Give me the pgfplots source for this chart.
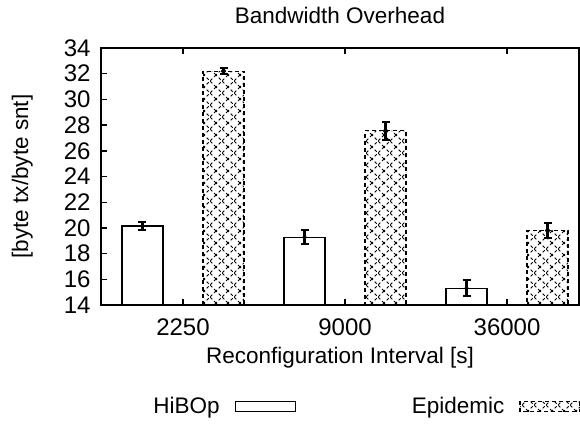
\documentclass[border=0pt]{standalone}
\usepackage{pgfplots}
\usepackage{pgfplotstable}
\pgfplotsset{compat=1.18}
\usepackage{fontspec}
\setmainfont{Liberation Sans}
\usetikzlibrary{patterns}

% dashed diagonal lattice used as the fill of the Epidemic bars
\pgfdeclarepatternformonly{dashlattice}{\pgfqpoint{-1pt}{-1pt}}{\pgfqpoint{13pt}{13pt}}{\pgfqpoint{12pt}{12pt}}{
  \pgfsetlinewidth{1.0pt}
  \pgfsetdash{{2.8pt}{2.4pt}}{1.4pt}
  \pgfpathmoveto{\pgfqpoint{0pt}{0pt}}
  \pgfpathlineto{\pgfqpoint{12pt}{12pt}}
  \pgfpathmoveto{\pgfqpoint{0pt}{12pt}}
  \pgfpathlineto{\pgfqpoint{12pt}{0pt}}
  \pgfusepath{stroke}
}

\pgfplotstableread{
x  hibop hibopErr epid  epidErr
0  20.15 0.30     32.20 0.25
1  19.27 0.55     27.55 0.70
2  15.30 0.62     19.80 0.62
}\bwdata

\newcommand{\chartfont}{\fontsize{22.5}{26}\selectfont}
\newcommand{\tickfont}{\fontsize{24}{28}\selectfont}

\begin{document}
\begin{tikzpicture}
\path[use as bounding box] (-101pt,-118pt) rectangle (479pt,305pt);
\begin{axis}[
  at={(0pt,0pt)}, anchor=south west,
  scale only axis,
  width=478pt, height=257pt,
  xmin=-0.506, xmax=2.444,
  ymin=14, ymax=34,
  ytick={14,16,...,34},
  xtick={0,1,2},
  xticklabels={2250,9000,36000},
  tick align=inside,
  xtick pos=both,
  ytick pos=left,
  major tick length=6pt,
  axis line style={line width=1.6pt},
  every tick/.style={line width=1.4pt, black},
  /pgf/number format/assume math mode=true,
  tick label style={font=\tickfont},
  yticklabel style={xshift=-7pt},
  xticklabel style={yshift=-10pt},
  title={Bandwidth Overhead},
  title style={font=\chartfont, yshift=15pt},
  xlabel={Reconfiguration Interval [s]},
  xlabel style={font=\chartfont, yshift=-5pt},
  ylabel={[byte tx/byte snt]},
  ylabel style={font=\chartfont, yshift=24pt},
  legend columns=2,
  legend plot pos=right,
  legend style={draw=none, fill=none, font=\chartfont, inner sep=0pt,
    nodes={inner sep=0pt},
    at={(0.109,-0.395)}, anchor=west,
    /tikz/every odd column/.append style={column sep=15pt},
    /tikz/every even column/.append style={column sep=116pt}},
  error bars/error bar style={line width=2.2pt, black},
  error bars/error mark options={rotate=90, mark size=4pt, line width=2pt},
]
\addplot[ybar, bar shift=-0.25, bar width=0.253, draw=black, line width=1.2pt, fill=white,
  legend image code/.code={\draw[black, line width=1.2pt, fill=white] (0pt,-5pt) rectangle (60pt,5pt);}]
  table[x=x, y=hibop] {\bwdata};
\addlegendentry{HiBOp}
\addplot[ybar, bar shift=0.25, bar width=0.253, draw=black, line width=1.2pt, dash pattern=on 4pt off 3pt,
  pattern=dashlattice, pattern color=black,
  legend image code/.code={\draw[black, line width=1.2pt, dash pattern=on 4pt off 3pt, pattern=dashlattice] (0pt,-5pt) rectangle (60pt,5pt);}]
  table[x=x, y=epid] {\bwdata};
\addlegendentry{Epidemic}
% error bars with their centre marks, one set per series
\addplot[only marks, mark=diamond*, mark size=2.6pt, black, forget plot,
  error bars/.cd, y dir=both, y explicit]
  table[x expr=\thisrow{x}-0.25, y=hibop, y error=hibopErr] {\bwdata};
\addplot[only marks, mark=diamond*, mark size=3.2pt, black, forget plot,
  error bars/.cd, y dir=both, y explicit]
  table[x expr=\thisrow{x}+0.25, y=epid, y error=epidErr] {\bwdata};
\end{axis}
\end{tikzpicture}
\end{document}
